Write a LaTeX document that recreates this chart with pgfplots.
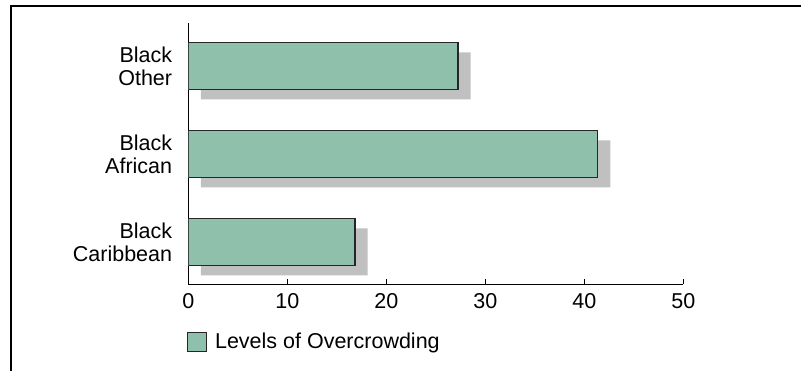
\documentclass[border=0pt]{standalone}
\usepackage{pgfplots}
\pgfplotsset{compat=1.18}
\usepackage{fontspec}
\setmainfont{Liberation Sans}
\definecolor{barg}{RGB}{143,192,171}
\definecolor{shad}{RGB}{192,192,192}
\begin{document}
\begin{tikzpicture}[x=1pt,y=1pt]
\fontsize{21.5}{23.3}\selectfont
\draw[line width=2.2pt] (10.7,-5) -- (10.7,365.2) -- (806,365.2);
\pgfplotsset{base/.style={scale only axis, width=495pt, height=261.6pt,
  xmin=0, xmax=50, ymin=-0.477, ymax=2.495, at={(188.3pt,86.7pt)}, anchor=south west}}
% shadows
\begin{axis}[base, hide axis, xbar stacked, bar width=47pt]
\addplot[draw=none, fill=none, bar shift=-9.5pt, forget plot] coordinates {(1.28,0) (1.28,1) (1.28,2)};
\addplot[draw=none, fill=shad, bar shift=-9.5pt, forget plot] coordinates {(16.84,0) (41.35,1) (27.24,2)};
\end{axis}
% main bars
\begin{axis}[base, xbar, bar width=47pt,
  axis x line=bottom, axis y line=left,
  axis line style={-, line width=1.3pt},
  xtick={0,10,20,30,40,50},
  ytick={0,1,2},
  yticklabels={{Black\\Caribbean},{Black\\African},{Black\\Other}},
  ytick style={draw=none},
  xtick style={line width=1.3pt, black},
  tick align=inside, major tick length=5pt,
  /pgf/number format/assume math mode=true,
  yticklabel style={align=right, inner sep=0pt, xshift=-16pt},
  xticklabel style={inner sep=0pt, yshift=-9pt},
  legend style={draw=none, fill=none, inner sep=0pt, nodes={inner sep=0pt},
    at={(0,0)}, anchor=west, yshift=-57.7pt, xshift=-1.6pt},
  legend image code/.code={\draw[#1, line width=1.1pt] (0pt,-9.7pt) rectangle (19.3pt,9.7pt); \path[draw=none, fill=none] (0pt,0pt) -- (27.6pt,0pt);},
]
\addplot[fill=barg, draw=black!85, line width=1.1pt, bar shift=0pt] coordinates {(16.84,0) (41.35,1) (27.24,2)};
\addlegendentry{Levels of Overcrowding}
\end{axis}
\pgfresetboundingbox
\useasboundingbox (0,0) rectangle (801,371);
\end{tikzpicture}
\end{document}
